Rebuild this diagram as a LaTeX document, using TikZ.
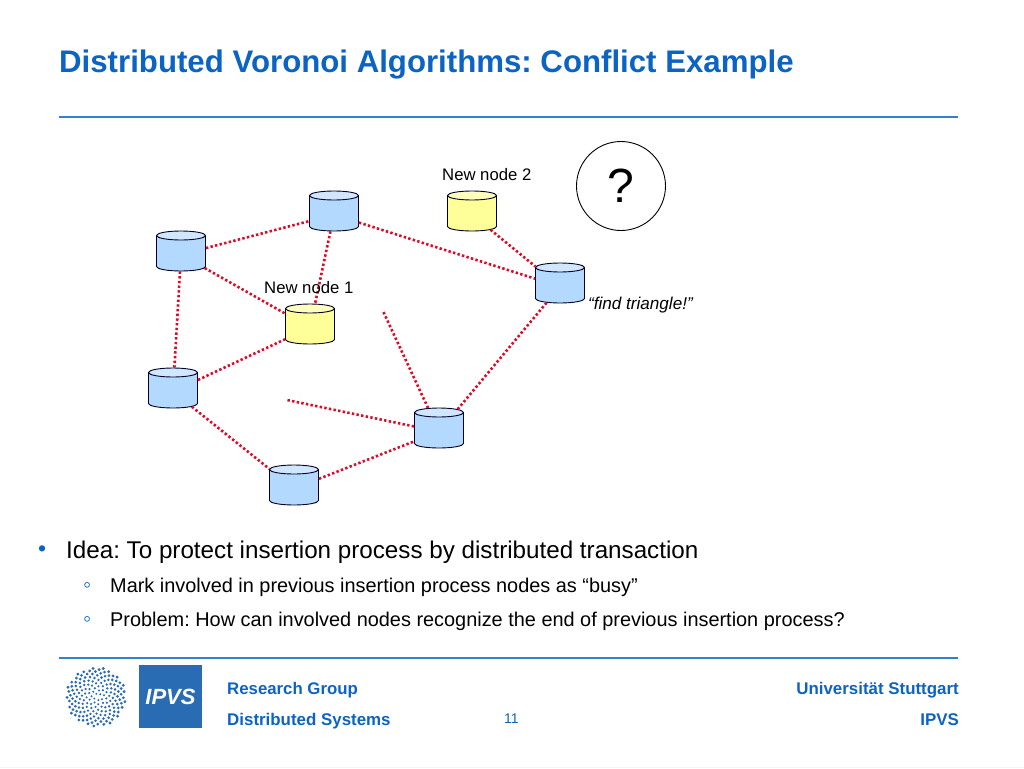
\documentclass[tikz,border=0pt]{standalone}
\usepackage{fontspec}
\setmainfont{Liberation Sans}
\frenchspacing
\usetikzlibrary{positioning,calc,shapes.geometric}
\definecolor{ipvsblue}{HTML}{0B63C4}
\definecolor{ruleblue}{HTML}{2F83CC}
\definecolor{logoblue}{HTML}{2A6CB4}
\definecolor{edgered}{HTML}{DC0A28}
\tikzset{
    dbnode/.style={cylinder, shape border rotate=90, draw=black!85!blue, line width=0.9pt, shape aspect=1.35,
        minimum width=49pt, minimum height=40pt, anchor=shape center, cylinder uses custom fill},
    oldnode/.style={dbnode, cylinder body fill={rgb,255:red,179;green,217;blue,255}, cylinder end fill={rgb,255:red,209;green,230;blue,255}},
    newnode/.style={dbnode, cylinder body fill={rgb,255:red,255;green,255;blue,153}, cylinder end fill={rgb,255:red,255;green,255;blue,190}},
    overlay edge/.style={edgered, line width=2.6pt, dash pattern=on 2.4pt off 2.3pt},
    plain text/.style={anchor=base west, inner sep=0pt},
    right text/.style={anchor=base east, inner sep=0pt},
}
\begin{document}
\begin{tikzpicture}[x=1pt, y=-1pt]
    \useasboundingbox (0,0) rectangle (1024,768);
    \fill[gray!8] (0,767) rectangle (1024,768);
    % Title and rules
    \node[plain text, text=ipvsblue, font=\fontsize{31.2}{33}\selectfont\bfseries] (title) at (59,72) {Distributed Voronoi Algorithms: Conflict Example};
    \draw[ruleblue, line width=1.2pt] (59,117) -- (958,117);
    \draw[ruleblue, line width=1.2pt] (59,658) -- (958,658);
    % Servers
    \node[oldnode] (left) at (181,251) {};
    \node[oldnode] (top) at (334,211) {};
    \node[oldnode] (right) at (560,283) {};
    \node[oldnode] (lower) at (173,388) {};
    \node[oldnode] (middle) at (439,428) {};
    \node[oldnode] (bottom) at (294,485) {};
    \node[newnode] (first) at (310,324) {};
    \node[newnode] (second) at (472,211) {};
    \coordinate (freeA) at (287,400);
    \coordinate (freeB) at (383,311);
    % Overlay links
    \foreach \a/\b in {left/top, top/right, top/first, left/first, left/lower, lower/first,
        lower/bottom, bottom/middle, middle/right, second/right, middle/freeA, middle/freeB} {
        \draw[overlay edge] (\a) -- (\b);
    }
    % Labels
    \node[plain text, font=\fontsize{16.7}{18}\selectfont] (firstlabel) at (264,293) {New node 1};
    \node[plain text, font=\fontsize{16.7}{18}\selectfont] (secondlabel) at (442,180) {New node 2};
    \node[plain text, font=\fontsize{17.1}{18}\selectfont\itshape] (findlabel) at (588,309) {“find triangle!”};
    \node[circle, draw, line width=0.9pt, minimum size=89pt, inner sep=0pt, font=\fontsize{48}{50}\selectfont] (question) at (621,186) {?};
    % Bullets
    \node[plain text, text=ipvsblue, font=\fontsize{23}{25}\selectfont] (bulletA) at (38,556) {•};
    \node[plain text, font=\fontsize{24.2}{26}\selectfont] (idea) at (66,558) {Idea: To protect insertion process by distributed transaction};
    \node[plain text, text=ipvsblue, font=\fontsize{23}{25}\selectfont] (bulletB) at (83,592) {◦};
    \node[plain text, font=\fontsize{19.9}{22}\selectfont] (mark) at (110,592) {Mark involved in previous insertion process nodes as “busy”};
    \node[plain text, text=ipvsblue, font=\fontsize{23}{25}\selectfont] (bulletC) at (83,626) {◦};
    \node[plain text, font=\fontsize{19.9}{22}\selectfont] (problem) at (110,626) {Problem: How can involved nodes recognize the end of previous insertion process?};
    % Footer
    \foreach \i in {1,...,170} {
        \pgfmathsetmacro{\rad}{2.28*sqrt(\i)}
        \pgfmathsetmacro{\ang}{mod(0.381966*\i,1)*360}
        \pgfmathsetmacro{\dotr}{1.0+0.02*\rad}
        \fill[logoblue] ($(96,697)+(\ang:\rad)$) circle (\dotr);
    }
    \node[fill=logoblue, minimum size=63pt, inner sep=0pt, text=white, font=\fontsize{22}{24}\selectfont\bfseries\itshape] (logo) at (170.5,696.5) {IPVS};
    \node[plain text, text=ipvsblue, font=\fontsize{16.8}{18}\selectfont\bfseries] (group) at (227,694) {Research Group};
    \node[plain text, text=ipvsblue, font=\fontsize{16.9}{18}\selectfont\bfseries] (systems) at (227,725) {Distributed Systems};
    \node[plain text, text=ipvsblue, font=\fontsize{14}{16}\selectfont] (page) at (504,723) {11};
    \node[right text, text=ipvsblue, font=\fontsize{16.9}{18}\selectfont\bfseries] (uni) at (959,694) {Universität Stuttgart};
    \node[right text, text=ipvsblue, font=\fontsize{16.9}{18}\selectfont\bfseries] (ipvs) at (959,725) {IPVS};
\end{tikzpicture}
\end{document}
